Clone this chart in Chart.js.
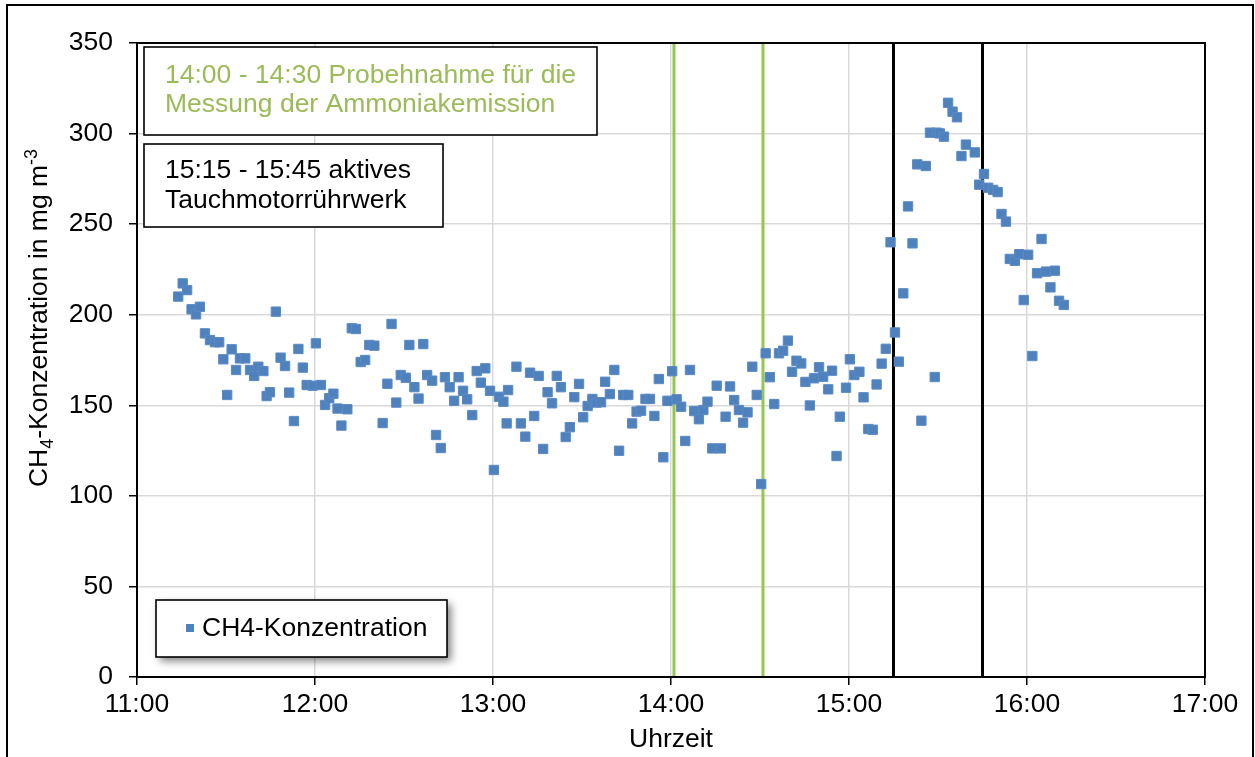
<!DOCTYPE html>
<html><head><meta charset="utf-8">
<script src="https://cdn.jsdelivr.net/npm/chart.js@4/dist/chart.umd.min.js"></script>
<style>html,body{margin:0;padding:0;background:#fff}#wrap{width:1255px;height:757px;position:relative}</style>
</head><body><div id="wrap"><canvas id="c" width="1255" height="757"></canvas></div>
<script>
// ---- data (time as minutes after 11:00, CH4 in mg m-3) ----
const minutesSince11 = [13.9,15.4,16.9,18.4,19.9,21.2,22.9,24.6,26.3,27.7,
29.1,30.4,31.9,33.4,34.7,36.5,38.1,39.5,40.9,42.6,
43.7,44.8,46.8,48.4,49.9,51.3,52.9,54.4,55.9,57.2,
59.2,60.3,62.0,63.4,64.8,66.2,67.6,68.9,70.9,72.4,
73.8,75.4,76.9,78.3,80.0,82.8,84.4,85.8,87.4,88.9,
90.6,91.8,93.5,94.9,96.5,97.8,99.5,100.8,102.4,103.8,
105.4,106.9,108.4,109.9,111.3,113.0,114.5,115.9,117.4,119.0,
120.3,122.0,123.5,124.6,125.1,127.9,129.4,130.9,132.5,133.9,
135.4,136.9,138.4,139.9,141.5,142.9,144.5,145.9,147.4,149.0,
150.4,151.9,153.5,154.9,156.4,157.8,159.4,160.9,162.5,163.9,
165.6,166.9,168.4,169.9,171.4,172.9,174.4,175.9,177.4,178.8,
180.4,181.9,183.4,184.8,186.4,187.8,189.4,190.9,192.3,193.9,
195.4,196.8,198.4,199.9,201.3,202.9,204.3,205.8,207.4,208.9,
210.4,211.9,213.3,214.8,216.4,217.8,219.4,220.8,222.3,223.9,
225.3,226.8,228.2,229.9,231.3,233.0,234.3,235.8,236.9,239.0,
240.3,241.8,243.5,244.9,246.5,248.0,249.3,251.0,252.4,254.0,
255.5,256.8,258.3,259.9,261.4,263.0,264.4,265.9,267.3,268.9,
269.6,270.6,272.0,273.4,274.9,276.4,277.9,279.4,282.4,283.9,
285.5,286.9,288.6,290.1,291.4,292.9,294.2,295.9,297.4,298.9,
300.4,301.8,303.4,304.9,306.4,307.9,309.4,310.8,312.4];

const ch4Values = [210,217.3,213.6,203,200.2,204.4,189.7,186,184.8,184.8,
175.4,155.7,180.9,169.5,175.9,175.9,169.5,166.2,171.3,168.9,
155.1,157.2,201.7,176.3,171.7,157,141.3,181.1,170.8,161.2,
160.8,184.2,161.2,150.2,153.9,156.4,148.2,138.8,147.8,192.5,
192.1,173.9,175,183.3,182.9,140.2,161.9,194.9,151.5,166.7,
165.2,183.3,160,153.7,183.8,166.7,163.6,133.6,126.4,165.5,
160,152.5,165.5,158,153.3,144.6,168.9,162.5,170.4,158,
114.3,154.7,152,140,158.4,171.3,140,132.7,168,144.1,
166.2,125.9,157.2,151.1,166.2,160,132.5,137.9,154.5,161.8,
143.4,149.6,153.5,151.5,151.7,163,156.2,169.5,124.9,155.7,
155.7,140,146.5,147,153.5,153.5,144.1,164.5,121.3,152.5,
168.8,153.3,149.2,130.3,169.5,146.8,142.3,147.4,152,126.2,
160.8,126.2,143.7,160.4,152.9,147.4,140.4,146.1,171.3,155.7,
106.5,178.7,165.5,150.7,178.7,180.1,185.7,168.5,174.6,173.1,
162.9,149.9,164.9,171,165.8,158.8,169.1,122,143.7,159.7,
175.4,166.7,168.5,154.4,136.9,136.5,161.5,173,181.2,240,
190.2,174.1,211.8,259.8,239.4,283,141.5,282.1,300.5,165.6,
300.5,300.1,298.3,317,312.1,309,287.6,293.9,289.6,271.8,
277.7,270.1,268.9,267.7,255.6,251.4,230.8,229.8,233.4,208.1,
233.1,177.2,222.9,241.8,223.8,215.1,224.3,207.7,205.4];

const samplingLineTimes = ['14:01', '14:31'];   // green markers
const stirrerLineTimes  = ['15:15', '15:45'];   // black markers
const xTickLabels = ['11:00','12:00','13:00','14:00','15:00','16:00','17:00'];
const yTickValues = [0,50,100,150,200,250,300,350];
const seriesName = 'CH4-Konzentration';
const xAxisTitle = 'Uhrzeit';
const samplingNote = ['14:00 - 14:30 Probehnahme für die', 'Messung der Ammoniakemission'];
const stirrerNote = ['15:15 - 15:45 aktives', 'Tauchmotorrührwerk'];

// ---- helpers ----
const FONT = '"Liberation Sans", Arial, sans-serif';
const FS = 26.5;
const toHours = s => { const [h, m] = s.split(':').map(Number); return h + m / 60; };
const points = minutesSince11.map((m, i) => ({ x: 11 + m / 60, y: ch4Values[i] }));
const yMin = yTickValues[0], yMax = yTickValues[yTickValues.length - 1];
const vline = (t, color) => ({
  type: 'line', label: 'marker ' + t,
  data: [{ x: toHours(t), y: yMin }, { x: toHours(t), y: yMax }],
  borderColor: color, borderWidth: 3, pointRadius: 0, showLine: true, fill: false, order: 2
});

const decor = {
  id: 'decor',
  afterDraw(chart) {
    const ctx = chart.ctx, a = chart.chartArea;
    ctx.save();
    ctx.strokeStyle = '#000'; ctx.lineWidth = 2;
    ctx.strokeRect(a.left, a.top, a.right - a.left, a.bottom - a.top);
    ctx.lineWidth = 2;
    ctx.strokeRect(7, 5, 1246, 760);

    const box = (x, y, w, h, lines, color, baselines) => {
      ctx.fillStyle = '#fff'; ctx.fillRect(x, y, w, h);
      ctx.strokeStyle = '#000'; ctx.lineWidth = 1.6; ctx.strokeRect(x, y, w, h);
      ctx.fillStyle = color; ctx.font = FS + 'px ' + FONT;
      ctx.textBaseline = 'alphabetic'; ctx.textAlign = 'left';
      lines.forEach((l, i) => ctx.fillText(l, x + 21, baselines[i]));
    };
    box(144, 47, 453, 88, samplingNote, '#9BBB59', [83, 112]);
    box(144, 144, 299, 83, stirrerNote, '#000', [178, 208]);

    ctx.save();
    ctx.shadowColor = 'rgba(0,0,0,0.5)'; ctx.shadowBlur = 8;
    ctx.shadowOffsetX = 4; ctx.shadowOffsetY = 4;
    ctx.fillStyle = '#fff'; ctx.fillRect(156, 600, 291, 57);
    ctx.restore();
    ctx.strokeStyle = '#000'; ctx.lineWidth = 1.6; ctx.strokeRect(156, 600, 291, 57);
    ctx.fillStyle = '#4F81BD'; ctx.fillRect(186, 624, 8, 8);
    ctx.fillStyle = '#000'; ctx.font = FS + 'px ' + FONT; ctx.textBaseline = 'middle';
    ctx.fillText(seriesName, 202, 629);

    const parts = [
      { t: 'CH', s: FS, dy: 0 }, { t: '4', s: 18, dy: 6 },
      { t: '-Konzentration in mg m', s: FS, dy: 0 }, { t: '-3', s: 18, dy: -10 }
    ];
    let W = 0;
    parts.forEach(p => { ctx.font = p.s + 'px ' + FONT; p.w = ctx.measureText(p.t).width; W += p.w; });
    ctx.translate(47, 318); ctx.rotate(-Math.PI / 2);
    ctx.textBaseline = 'alphabetic'; ctx.fillStyle = '#000';
    let x = -W / 2;
    parts.forEach(p => { ctx.font = p.s + 'px ' + FONT; ctx.fillText(p.t, x, p.dy); x += p.w; });
    ctx.restore();
  }
};

new Chart(document.getElementById('c'), {
  type: 'scatter',
  data: {
    datasets: [
      { label: seriesName, data: points, backgroundColor: '#4F81BD', borderColor: '#5A8AC4',
        borderWidth: 1, pointStyle: 'rect', pointRadius: 6.6, pointHoverRadius: 6.6, order: 1 },
      ...samplingLineTimes.map(t => vline(t, '#92C84F')),
      ...stirrerLineTimes.map(t => vline(t, '#000'))
    ]
  },
  options: {
    responsive: false, animation: false, devicePixelRatio: 1,
    layout: { padding: { left: 0, right: 50, top: 43, bottom: 0 } },
    plugins: { legend: { display: false }, tooltip: { enabled: false } },
    scales: {
      x: {
        type: 'linear', min: 11, max: 17,
        afterBuildTicks: s => { s.ticks = xTickLabels.map(toHours).map(v => ({ value: v })); },
        ticks: { callback: (v) => xTickLabels[Math.round(v - 11)], color: '#000', font: { family: FONT, size: FS }, padding: 4, maxRotation: 0, autoSkip: false },
        grid: { color: '#D9D9D9', lineWidth: 1.5, tickLength: 8, tickColor: '#000', tickWidth: 1.5 },
        border: { color: '#000', width: 2 },
        title: { display: true, text: xAxisTitle, color: '#000', font: { family: FONT, size: FS }, padding: { top: 0, bottom: 1 } },
        afterFit: s => { s.height = 80; }
      },
      y: {
        min: yMin, max: yMax,
        afterBuildTicks: s => { s.ticks = yTickValues.map(v => ({ value: v })); },
        ticks: { color: '#000', font: { family: FONT, size: FS }, padding: 16 },
        grid: { color: '#D9D9D9', lineWidth: 1.5, tickLength: 8, tickColor: '#000', tickWidth: 1.5 },
        border: { color: '#000', width: 2 },
        afterFit: s => { s.width = 137; }
      }
    }
  },
  plugins: [decor]
});
</script></body></html>
